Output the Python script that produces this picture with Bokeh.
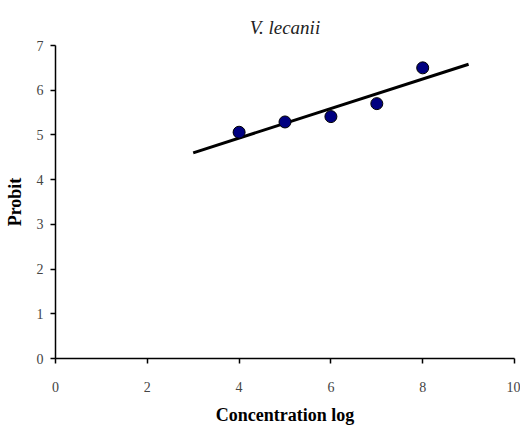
from bokeh.plotting import figure
from bokeh.models import Range1d, FixedTicker
from bokeh.embed import file_html
from bokeh.resources import INLINE

# data
conc_log = [4, 5, 6, 7, 8]
probit = [5.06, 5.29, 5.41, 5.70, 6.50]
fit_x = [3, 9]
fit_y = [4.60, 6.58]
x_ticks = [0, 2, 4, 6, 8, 10]
y_ticks = [0, 1, 2, 3, 4, 5, 6, 7]

FONT = "Liberation Serif"

p = figure(width=520, height=432, output_backend="svg", toolbar_location=None,
           x_range=Range1d(0, 10), y_range=Range1d(0, 7),
           min_border_left=55, min_border_right=6, min_border_top=45, min_border_bottom=74,
           title="V. lecanii")
p.outline_line_color = None
p.background_fill_color = "white"
p.border_fill_color = "white"
p.grid.visible = False

p.title.align = "center"
p.title.text_font = FONT
p.title.text_font_style = "italic"
p.title.text_font_size = "19px"
p.title.text_color = "#222222"
p.title.standoff = 16

for ax in (p.xaxis[0], p.yaxis[0]):
    ax.axis_line_color = "black"
    ax.axis_line_width = 1.5
    ax.major_tick_line_color = "black"
    ax.major_tick_line_width = 1.5
    ax.major_tick_in = 0
    ax.major_tick_out = 5
    ax.minor_tick_line_color = None
    ax.major_label_text_font = FONT
    ax.major_label_text_font_size = "14px"
    ax.major_label_text_color = "#444444"
    ax.axis_label_text_font = FONT
    ax.axis_label_text_font_style = "bold"
    ax.axis_label_text_font_size = "18px"
    ax.axis_label_text_color = "black"

p.xaxis[0].ticker = FixedTicker(ticks=x_ticks)
p.yaxis[0].ticker = FixedTicker(ticks=y_ticks)
p.xaxis[0].axis_label = "Concentration log"
p.yaxis[0].axis_label = "Probit"
p.xaxis[0].major_label_standoff = 18
p.xaxis[0].axis_label_standoff = 10
p.yaxis[0].major_label_standoff = 7
p.yaxis[0].axis_label_standoff = 9

p.line(fit_x, fit_y, line_color="black", line_width=3)
p.scatter(conc_log, probit, size=12, fill_color="#000080", line_color="black", line_width=1)

open("out.html", "w").write(file_html(p, INLINE))
